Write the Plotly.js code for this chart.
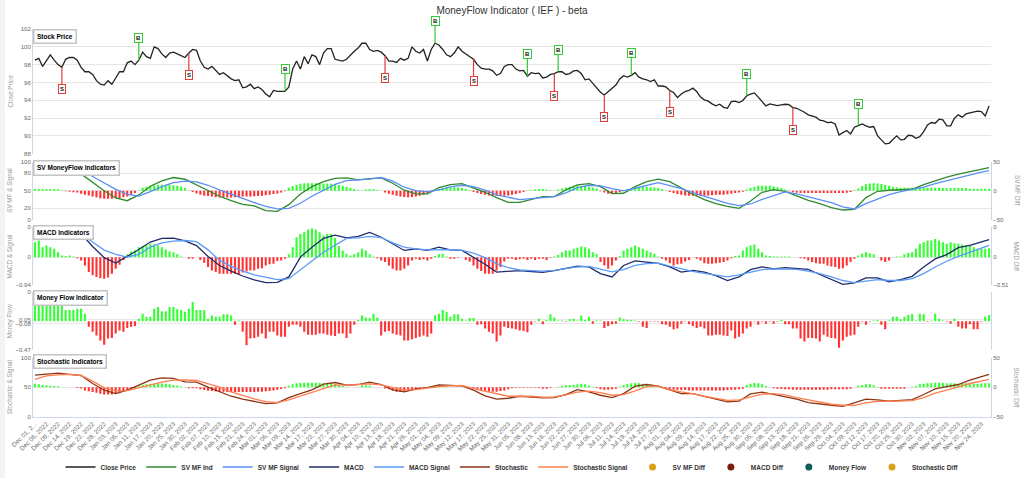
<!DOCTYPE html>
<html><head><meta charset="utf-8">
<script src="https://cdn.plot.ly/plotly-3.0.1.min.js"></script>
<style>
html,body{margin:0;padding:0;background:#f3f3f3;}
#chart{position:absolute;left:5px;top:0;width:1019px;height:478px;background:#fff;}
</style></head><body><div id="chart"></div>
<script>
// ---- categories / tick labels (every 3rd trading day) ----
const tickLabels = ["Dec 01, 2...","Dec 06, 2022","Dec 09, 2022","Dec 14, 2022","Dec 19, 2022","Dec 22, 2022","Dec 28, 2022","Jan 03, 2023","Jan 06, 2023","Jan 11, 2023","Jan 17, 2023","Jan 20, 2023","Jan 25, 2023","Jan 30, 2023","Feb 02, 2023","Feb 07, 2023","Feb 10, 2023","Feb 15, 2023","Feb 21, 2023","Feb 24, 2023","Mar 01, 2023","Mar 06, 2023","Mar 09, 2023","Mar 14, 2023","Mar 17, 2023","Mar 22, 2023","Mar 27, 2023","Mar 30, 2023","Apr 04, 2023","Apr 10, 2023","Apr 13, 2023","Apr 18, 2023","Apr 21, 2023","Apr 26, 2023","May 01, 2023","May 04, 2023","May 09, 2023","May 12, 2023","May 17, 2023","May 22, 2023","May 25, 2023","May 31, 2023","Jun 05, 2023","Jun 08, 2023","Jun 13, 2023","Jun 16, 2023","Jun 22, 2023","Jun 27, 2023","Jun 30, 2023","Jul 06, 2023","Jul 11, 2023","Jul 14, 2023","Jul 19, 2023","Jul 24, 2023","Jul 27, 2023","Aug 01, 2023","Aug 04, 2023","Aug 09, 2023","Aug 14, 2023","Aug 17, 2023","Aug 22, 2023","Aug 25, 2023","Aug 30, 2023","Sep 05, 2023","Sep 08, 2023","Sep 13, 2023","Sep 18, 2023","Sep 21, 2023","Sep 26, 2023","Sep 29, 2023","Oct 04, 2023","Oct 09, 2023","Oct 12, 2023","Oct 17, 2023","Oct 20, 2023","Oct 25, 2023","Oct 30, 2023","Nov 02, 2023","Nov 07, 2023","Nov 10, 2023","Nov 15, 2023","Nov 20, 2023","Nov 24, 2023"];

// ---- daily close price ----
const closePrice = [
98.5,98.7,97.8,98.5,99.1,98.5,98.0,97.7,98.6,98.8,
98.8,98.5,97.7,97.2,97.2,96.9,96.2,95.8,95.7,96.2,
95.8,96.5,97.2,97.2,98.2,98.4,98.0,98.5,99.4,98.9,
98.7,100.0,99.8,99.2,98.8,99.3,99.4,99.2,99.0,98.8,
99.3,99.7,99.6,98.4,97.7,97.5,97.8,97.3,96.9,97.1,
96.7,96.4,96.2,96.3,95.4,95.5,95.8,95.3,95.5,95.2,
94.7,94.4,95.1,95.0,95.0,95.0,95.5,97.5,98.4,97.5,
98.9,98.1,99.1,98.9,98.0,99.3,99.8,99.8,98.6,98.5,
98.4,98.6,99.1,99.5,99.86,100.4,100.4,99.7,99.5,99.6,
99.4,99.0,98.4,98.4,98.25,98.7,98.5,98.7,100.0,99.5,
99.3,99.7,98.4,99.7,100.4,100.2,99.7,99.1,98.9,99.3,
100.0,99.5,99.2,98.9,98.6,98.0,97.6,97.5,97.5,97.3,
96.8,97.0,97.8,98.0,98.0,97.5,97.3,97.35,96.7,97.1,
97.0,97.05,96.5,96.6,96.9,97.0,97.2,97.2,96.9,97.0,
97.3,97.35,97.0,96.3,96.4,95.9,95.4,94.9,94.6,95.0,
95.4,95.7,96.4,96.75,96.6,96.8,97.1,96.6,96.4,96.3,
96.1,96.3,95.6,95.6,95.5,95.1,94.87,94.3,94.7,94.98,
95.1,95.36,94.98,94.35,94.05,93.9,93.6,93.37,93.55,93.2,
93.1,93.85,93.9,93.75,93.97,94.5,94.7,94.83,94.35,93.85,
93.37,93.6,93.48,93.4,93.48,93.55,93.5,93.18,93.1,92.9,
92.65,92.36,92.24,92.1,91.76,91.68,91.5,91.53,91.34,90.1,
90.37,90.6,90.22,90.97,91.16,91.34,91.12,90.97,91.05,90.03,
89.55,89.1,89.17,89.62,90.0,89.55,89.62,90.07,90.03,89.73,
89.92,90.48,91.23,91.5,91.42,91.87,91.8,91.12,91.12,91.98,
92.36,92.1,92.47,92.58,92.65,92.77,92.73,92.24,93.37];

// ---- buy / sell flag days (index into closePrice) ----
const buyDays  = [27, 65, 104, 128, 136, 155, 185, 214];
const sellDays = [7, 40, 91, 114, 135, 148, 165, 197];

// ---- smooth indicator lines, sampled on the labelled days + last day ----
const svMfInd = [88.7,88.7,88.7,87.5,78.9,63.7,50,37.7,33,42.9,
57.7,66.9,72.6,69.7,60,50.3,40.6,33,26.9,24,
16,14.9,26.3,44.6,57,65.7,71,72,68.6,70.9,
72,62.9,50.9,44.6,44.6,55.4,60.6,62.3,55.4,47.4,
38.3,30.3,30.3,35.4,40,40,51.4,60,62.3,57,
45.1,45.7,57,65.7,70,65.7,54.3,44,34.9,28,
23.4,20,32.6,47.4,52,49.1,41.1,33.7,28,21.1,
17.1,18.3,38.3,49.1,50.9,51.4,52.6,60.6,67.4,73.1,
78.3,82.9,86.9,89.7];
const svMfSignal = [84.6,87.7,90.3,89.7,85,74.3,62.9,52.3,44,41,
48.6,57.1,64,66.3,65.2,59.4,51.4,44,36.6,29.7,
23.4,18.9,20,28.6,40.6,50.9,61,67.4,68.6,70,
72.6,66.3,56,50.3,48,51.4,56.6,59.4,57,50.9,
42.9,38.9,34.9,36.6,38.3,40,46.3,55.4,59.4,58.3,
53.7,49.7,54.3,58.9,64,58.9,53.7,46.9,40.6,33.7,
28.6,24.6,27.4,35.4,41.7,48,44.6,39.4,34.3,29.7,
22.3,18.9,28,36,43.4,48.6,52,56,62.3,67.4,
72.6,77.1,81.7,84.6];
const macdLine = [.69,.87,.86,.83,.78,.35,-.02,-.2,.02,.25,
.5,.62,.63,.54,.38,.02,-.28,-.47,-.63,-.76,
-.85,-.84,-.66,0,.33,.62,.73,.64,.69,.82,
.66,.45,.22,.27,.22,.33,.24,.22,0,-.24,
-.5,-.47,-.45,-.48,-.51,-.45,-.37,-.3,-.33,-.55,
-.66,-.28,-.13,-.16,-.21,-.33,-.5,-.44,-.5,-.62,
-.78,-.66,-.42,-.33,-.39,-.35,-.38,-.41,-.58,-.75,
-.91,-.86,-.69,-.69,-.82,-.75,-.64,-.33,-.06,.08,
.31,.39,.5,.58];
const macdSignal = [.64,.72,.78,.8,.78,.5,.23,.09,0,.09,
.33,.47,.53,.55,.51,.24,-.11,-.31,-.47,-.59,
-.66,-.75,-.72,-.44,-.13,.16,.39,.62,.64,.69,
.65,.47,.33,.27,.24,.25,.25,.22,.13,-.02,
-.22,-.35,-.43,-.45,-.47,-.44,-.39,-.33,-.31,-.39,
-.49,-.42,-.28,-.22,-.2,-.3,-.39,-.48,-.54,-.59,
-.66,-.59,-.5,-.42,-.39,-.39,-.41,-.47,-.55,-.66,
-.78,-.85,-.8,-.75,-.78,-.78,-.72,-.55,-.33,-.14,
.02,.16,.28,.39];
const stochLine = [70.6,72.3,74,71.8,70,56.5,45.2,39.5,45.2,53.7,
62.1,66.1,65,59.3,58.8,50.3,42.4,35,30,26,
22.6,23.7,32.8,39.5,45.8,55.4,58.2,53.7,54.8,58.8,
54.8,45.8,42.4,47.5,49.7,54.2,53.7,52.5,45.2,35.6,
30,31.6,35,33.9,32.2,32.8,37.9,46.3,42.4,36.7,
32.8,39.5,52,54.8,52,45.8,39.5,39.5,35,30,
25.4,26.6,39,41.8,37.9,33.9,30,24.3,21.5,19.8,
18.1,24.3,30,28.8,26.6,28.2,29.4,37.9,47.5,51.4,
54.8,62.1,67.8,71.8];
const stochSignal = [63.3,69.5,71.2,71.8,70,60.5,49.2,44,44.6,49.7,
53.7,58.8,62.1,62.7,61.6,56.5,50.3,42.4,36.2,30.5,
26,24.3,28.8,35,41.8,48.6,54.2,53.7,54.8,55.9,
54.2,49.2,45.2,46.3,49.2,51.4,52.5,53.1,48,43.5,
38.4,35,35,35,33.3,33.9,37.3,41.8,43.5,41.2,
36.7,37.9,44,51.4,52.5,45.8,42.4,39.5,35,31.1,
28.2,28.8,33.3,38.4,39.5,37.3,32.8,28.8,25.4,21.5,
19.8,19.8,23.7,26.6,26.6,26.6,27.7,32.8,40.1,45.2,
50.8,56.5,60.5,63.3];

// ---- daily histogram series ----
const svMfDiff = [
2.8,2.8,2.8,2.8,2.8,2.8,2.5,0.3,-1,-1.5,
-2.5,-3,-5,-6.8,-8,-9.7,-11,-13,-13.7,-13.7,
-13.7,-13,-12.5,-11,-9.7,-7,-4,0.5,5,7,
8.5,9.5,10.2,10.2,10.2,10,9.5,8.5,7.4,4.5,
0.5,-2,-4.5,-7,-8.5,-9,-10,-11,-11.4,-11.4,
-11.4,-11.4,-11,-10.5,-10,-9.7,-9.7,-9.5,-9,-8.5,
-7.5,-6.8,-5.5,-4.5,-3,-1,5,8,10,12,
13,13,13,13,13,12.5,12.5,12,11,10,
8.5,7,5,3,1.5,0.5,2,2.5,2.5,1.5,
0,-3,-5,-7,-8.5,-9.7,-10.5,-11,-10.5,-9.7,
-8.5,-6.8,-4,-1,0.3,3,4.5,5.5,6,6,
5.5,4.5,3,1,-2,-4,-5.5,-6.8,-8,-8.5,
-9,-9,-8.5,-8,-7,-5.5,-4,-2,0.3,1,
2.5,3,3,2,1,0.5,2,4,5.5,7,
8,8.5,8.5,8,7,5.5,4,-1,-3,-5,
-5.5,-4,-2,0.3,3,4.5,5.5,6,6.5,6.5,
6,5.5,4.5,3,0.5,-2,-4,-5.5,-7,-8,
-8.5,-8.5,-8.5,-8.5,-8.5,-8,-7.5,-7,-6.8,-6.8,
-6,-5,-4,-3,-1.5,2,5,7,8.5,8.5,
8.5,8.5,7.5,6,4.5,2,-1,-2.5,-3.5,-4,
-4,-4,-4,-4,-4,-4,-4,-4,-4,-4,
-4,-3.5,-2,1,4,8,11,12.5,13,12.5,
11.5,10,8.5,7,6,5,5,5,5,5,
5.5,5.5,5,5,5,5,4.5,4.5,4.5,4.5,
4.5,4.5,4.5,3.5,3.5,3.5,3.5,3.5,3.5];
const macdDiff = [
.27,.30,.18,.21,.18,.15,.09,.03,.02,.03,
.01,-.02,-.06,-.15,-.27,-.33,-.36,-.38,-.39,-.37,
-.3,-.21,-.14,-.05,.05,.1,.12,.18,.2,.21,
.24,.23,.21,.18,.14,.1,.09,.05,.01,0,
-.03,-.03,0,-.05,-.1,-.18,-.24,-.27,-.3,-.3,
-.3,-.3,-.3,-.32,-.28,-.26,-.24,-.24,-.21,-.2,
-.15,-.13,-.12,-.07,-.06,-.03,.05,.18,.36,.42,
.45,.5,.52,.5,.45,.39,.42,.42,.35,.2,
.12,.06,.03,.05,.09,.15,.12,.05,.01,-.02,
-.06,-.09,-.15,-.21,-.24,-.24,-.21,-.15,-.06,-.03,
-.05,-.04,-.06,-.03,.02,.05,.06,.01,-.03,-.03,
-.01,0,-.05,-.08,-.15,-.21,-.25,-.3,-.3,-.3,
-.24,-.18,-.08,-.03,-.03,-.05,-.04,-.03,-.05,-.03,
-.05,-.03,-.03,-.05,-.01,.01,.04,.09,.12,.12,
.15,.17,.19,.18,.15,.09,.05,-.09,-.15,-.21,
-.15,-.06,.02,.12,.15,.18,.21,.18,.15,.12,
.09,.06,.01,-.03,-.06,-.11,-.15,-.13,-.12,-.08,
-.05,0,-.03,-.06,-.11,-.12,-.12,-.11,-.1,-.09,
-.06,-.02,.02,.03,.12,.18,.21,.23,.15,.09,
.03,.02,.01,.01,.01,.01,.01,0,0,-.02,
-.03,-.06,-.09,-.11,-.12,-.12,-.15,-.17,-.18,-.21,
-.2,-.15,-.09,-.03,.03,.06,.09,.07,.05,0,
-.06,-.09,-.06,0,.01,.01,.05,.08,.09,.15,
.24,.27,.3,.3,.33,.3,.27,.24,.27,.25,
.24,.23,.21,.2,.18,.15,.15,.15,.16];
const moneyFlow = [
.39,.37,.34,.34,.32,.28,.28,.27,.18,.18,
.18,.2,.2,.12,-.09,-.17,-.23,-.31,-.38,-.28,
-.27,-.2,-.15,-.17,-.11,-.09,-.08,.04,.12,.07,
.07,.2,.23,.16,.16,.23,.23,.19,.18,.15,
.2,.31,.18,.18,.18,.04,.09,.07,.07,.11,
.11,.09,-.06,.01,-.17,-.39,-.28,-.27,-.25,-.2,
-.28,-.17,-.17,-.23,-.25,-.25,-.09,-.06,-.06,-.09,
-.17,-.22,-.22,-.22,-.2,-.2,-.22,-.23,-.24,-.2,
-.2,-.27,-.2,-.06,.02,.09,.06,.05,.12,.06,
-.23,-.17,-.16,-.2,-.22,-.23,-.31,-.31,-.29,-.27,
-.25,-.23,-.25,-.2,.09,.12,.18,.15,.07,.11,
.11,.04,.01,.05,.05,-.06,-.05,-.12,-.17,-.2,
-.33,-.23,-.09,-.11,-.12,-.13,-.15,-.16,-.18,-.06,
-.01,.04,-.05,.02,.11,.06,.01,.01,-.01,.03,
.04,.01,.09,.02,.07,-.04,.01,.01,-.11,-.08,
-.05,-.04,.06,.03,.02,.02,.01,-.01,-.09,-.11,
-.01,-.01,-.01,-.05,-.06,-.09,-.13,-.12,-.04,-.01,
-.05,-.08,-.11,-.09,-.12,-.23,-.23,-.22,-.22,-.23,
-.24,-.15,-.28,-.25,-.2,-.12,-.09,-.01,-.06,-.01,
-.04,-.01,-.04,-.01,.02,-.05,-.05,-.12,-.12,-.28,
-.33,-.27,-.27,-.28,-.33,-.22,-.25,-.27,-.28,-.43,
-.31,-.25,-.23,-.22,-.09,-.01,-.06,-.01,.01,.02,
-.06,-.13,.01,.07,.07,.03,.07,.1,.11,.01,
.12,.11,-.01,.01,.12,.04,.01,-.01,-.04,.04,
-.09,-.12,-.12,-.05,-.13,-.13,-.01,.07,.1];
const stochDiff = [
6.2,5.1,4,3.4,2.8,2.3,1.7,0.3,0.3,0.3,
0.3,-1,-2,-5.1,-6.5,-7.9,-9,-10.7,-11.9,-11.9,
-11.9,-11,-9,-6.8,-4,-2.5,-1,2,4,5.1,
6.2,6.5,6.8,6.5,6.2,5.1,4,3,1.5,0.5,
-1.7,-1.7,-1.7,-3.4,-4.5,-5.6,-6.2,-7,-7.3,-7.5,
-7.9,-7.9,-7.9,-7.9,-7.9,-7.9,-7.9,-7.9,-7.5,-7.3,
-6.5,-6.2,-5.1,-4,-2.8,-1.5,2.8,5.1,6.8,7.5,
7.9,7.9,7.9,7.6,7.3,6.8,7.5,7.5,5.8,4,
2.3,0.5,0.3,0.3,0.3,3.5,3.5,2.5,0.3,0.2,
0.2,-2,-3.4,-5.1,-7.3,-7.3,-7.3,-6.5,-5.1,-3,
-1.5,-0.5,0.5,1.5,3.4,3.4,2.5,1,0.3,0.3,
0.3,0.3,0.3,0.2,-1.5,-3.4,-5.1,-6.2,-7.3,-7.3,
-7.3,-6.2,-5.1,-3.4,-1.5,-0.5,-0.5,-0.5,-0.5,-0.5,
-0.5,-1,-2.3,-2.3,-1,0.2,1,2.3,3.4,4,
4.5,5.1,6.2,5.1,3,1,-1,-3.4,-4,-4,
-3.4,-2.3,1,4,5.6,6.8,7.3,6.8,6.2,5.1,
4,3,1.5,-0.5,-1.5,-3.4,-4,-4,-4.5,-4.5,
-5.1,-5.1,-5.1,-5.1,-5.1,-5.1,-5.1,-5.1,-5.1,-5.1,
-4.5,-4,-4,-3.4,-2.3,4,6.2,7.3,6.8,5.1,
2.3,0.2,-1.7,-2.3,-2.8,-3.4,-3.4,-4,-4,-4,
-4,-4,-4,-4,-4,-4,-4,-3.4,-3.4,-3.4,
-3.4,-3,-2.3,0.2,2.8,4,5.1,5.1,3.4,0.5,
-2.3,-2.3,-2.3,-2.3,-2.3,-2.3,-2.3,0.2,1,2.3,
5.1,6.2,6.8,7.3,7.9,7.9,7.3,6.8,6.8,6.8,
6.2,6.5,6.8,6.5,6.2,6.2,6.5,6.8,6.8];

// ---- positions on the category axis ----
const dayX = arr => arr.map((_, i) => i);
const tickX = tickLabels.map((_, i) => 3 * i);
const lineX = tickX.concat([closePrice.length - 1]);
const signColor = arr => arr.map(v => v >= 0 ? '#33ff33' : '#ff3333');

const FONT = '"Liberation Sans", Arial, sans-serif';
const GRID = '#e6e6e6', AXL = '#ccd6eb', TXT = '#666';
const tf = {family: FONT, size: 6, color: TXT};

const dom = {price:[0.6786,1], sv:[0.5077,0.6585], macd:[0.3394,0.4897], mf:[0.1719,0.3214], st:[0,0.1528]};

const lineTrace = (name, x, y, ya, color) => ({type:'scatter', mode:'lines', name, x, y, xaxis:'x', yaxis:ya,
  line:{color, width:1.3}, hoverinfo:'skip'});
const barTrace = (name, y, ya, grp) => ({type:'bar', name, x: dayX(y), y, xaxis:'x', yaxis:ya, width:0.55,
  marker:{color: signColor(y), line:{width:0}}, showlegend:false, legendgroup:grp, hoverinfo:'skip'});
const legendDot = (name, color, grp) => ({type:'scatter', mode:'markers', name, x:[null], y:[null], xaxis:'x', yaxis:'y',
  marker:{color, size:7, symbol:'circle'}, legendgroup:grp, hoverinfo:'skip'});

const data = [
  barTrace('SV MF Diff', svMfDiff, 'y2', 'svd'),
  barTrace('MACD Diff', macdDiff, 'y4', 'md'),
  barTrace('Money Flow', moneyFlow, 'y6', 'mf'),
  barTrace('Stochastic Diff', stochDiff, 'y7', 'sd'),
  lineTrace('Close Price', dayX(closePrice), closePrice, 'y', '#222222'),
  lineTrace('SV MF Ind', lineX, svMfInd, 'y3', '#2f8a2f'),
  lineTrace('SV MF Signal', lineX, svMfSignal, 'y3', '#5b8ff5'),
  lineTrace('MACD', lineX, macdLine, 'y5', '#1f2c6c'),
  lineTrace('MACD Signal', lineX, macdSignal, 'y5', '#5b9bf8'),
  lineTrace('Stochastic', lineX, stochLine, 'y8', '#8e3516'),
  lineTrace('Stochastic Signal', lineX, stochSignal, 'y8', '#ff7f50'),
  legendDot('SV MF Diff', '#d9a21b', 'svd'),
  legendDot('MACD Diff', '#7d1f0c', 'md'),
  legendDot('Money Flow', '#0d5f57', 'mf'),
  legendDot('Stochastic Diff', '#d9a21b', 'sd')
];

const leftAx = (domain, range, tickvals, ticktext, extra) => Object.assign({domain, range, tickvals, ticktext,
  showgrid:true, gridcolor:GRID, gridwidth:1, zeroline:false, showline:true, linecolor:AXL, linewidth:1,
  ticks:'', tickfont:tf, fixedrange:true, anchor:'x', side:'left', automargin:false}, extra || {});
const rightAx = (domain, range, tickvals, ticktext) => ({domain, range, tickvals, ticktext, side:'right', anchor:'x',
  showgrid:false, zeroline:false, showline:true, linecolor:AXL, linewidth:1, ticks:'', tickfont:tf, fixedrange:true, automargin:false});

const flag = (idx, label, color, off) => ({x: idx, y: closePrice[idx], xref:'x', yref:'y', text:'<b>'+label+'</b>',
  showarrow:true, arrowhead:0, arrowwidth:1.2, arrowcolor:color, ax:0, ay:off, standoff:0,
  bordercolor:color, borderwidth:1, borderpad:1, bgcolor:'#ffffff', font:{family:FONT, size:6, color:'#111'}});
const panelLabel = (text, top) => ({xref:'paper', yref:'paper', x:0, y:top, xanchor:'left', yanchor:'top',
  text:'<b>'+text+'</b>', showarrow:false, bgcolor:'#ffffff', bordercolor:'#c4c4c4', borderwidth:1.5, borderpad:2.5,
  font:{family:FONT, size:6.5, color:'#000'}});
const axTitle = (text, x, y, angle) => ({xref:'paper', yref:'paper', x, y, xanchor:'center', yanchor:'middle',
  text, textangle:angle, showarrow:false, font:{family:FONT, size:6.3, color:'#9a9a9a'}});

const annotations = []
  .concat(buyDays.map(d => flag(d, 'B', '#33cc33', -22)))
  .concat(sellDays.map(d => flag(d, 'S', '#e23c3c', 22)))
  .concat([
    panelLabel('Stock Price', dom.price[1]),
    panelLabel('SV MoneyFlow Indicators', dom.sv[1] + 0.003),
    panelLabel('MACD Indicators', dom.macd[1] + 0.006),
    panelLabel('Money Flow Indicator', dom.mf[1] + 0.006),
    panelLabel('Stochastic Indicators', dom.st[1] + 0.01),
    axTitle('Close Price', -0.024, 0.839, -90),
    axTitle('SV MF &amp; Signal', -0.024, 0.583, -90),
    axTitle('MACD &amp; Signal', -0.024, 0.414, -90),
    axTitle('Money Flow', -0.024, 0.247, -90),
    axTitle('Stochastic &amp; Signal', -0.024, 0.0765, -90),
    axTitle('SV MF Diff', 1.027, 0.583, 90),
    axTitle('MACD Diff', 1.027, 0.414, 90),
    axTitle('Stochastic Diff', 1.027, 0.0765, 90)
  ]);

const layout = {
  width:1019, height:478,
  margin:{l:28, r:33, t:29, b:61, pad:0, autoexpand:false},
  paper_bgcolor:'#ffffff', plot_bgcolor:'#ffffff',
  font:{family:FONT, color:'#333'},
  title:{text:'MoneyFlow Indicator ( IEF ) - beta', font:{family:FONT, size:10, color:'#333'}, xref:'paper', x:0.5, xanchor:'center', y:0.977, yanchor:'middle', automargin:false},
  showlegend:true,
  legend:{orientation:'h', xref:'paper', x:0.5, xanchor:'center', yref:'container', y:0.023, yanchor:'middle', itemwidth:30,
    font:{family:FONT, size:6.5, color:'#333', weight:'bold'}, bgcolor:'rgba(0,0,0,0)', traceorder:'normal'},
  barmode:'overlay',
  hovermode:false,
  xaxis:{anchor:'y7', domain:[0,1], range:[-0.5, closePrice.length - 0.5], tickvals:tickX, ticktext:tickLabels,
    tickangle:-45, tickfont:{family:FONT, size:6.3, color:TXT}, showgrid:false, zeroline:false, showline:true,
    linecolor:AXL, ticks:'', fixedrange:true, automargin:false},
  yaxis: leftAx(dom.price, [88,102], [88,90,92,94,96,98,100,102], ['88','90','92','94','96','98','100','102']),
  yaxis2: rightAx(dom.sv, [-50,50], [-50,0,50], ['−50','0','50']),
  yaxis3: leftAx(dom.sv, [0,100], [0,20,50,80,100], ['0','20','50','80','100'], {overlaying:'y2'}),
  yaxis4: rightAx(dom.macd, [-0.51,0.545], [-0.51,0,0.545], ['−0.51','0','0']),
  yaxis5: leftAx(dom.macd, [-0.94,1.0], [-0.94,0,1.0], ['−0.94','0','0'], {overlaying:'y4'}),
  yaxis6: leftAx(dom.mf, [-0.47,0.465], [-0.47,-0.045,0.025,0.465], ['−0.47','−0.08','0.05','0'], {mirror:true}),
  yaxis7: rightAx(dom.st, [-50,50], [-50,0,50], ['−50','0','50']),
  yaxis8: leftAx(dom.st, [0,100], [0,50,100], ['0','50','100'], {overlaying:'y7'}),
  annotations
};

Plotly.newPlot('chart', data, layout, {displayModeBar:false, staticPlot:true});
</script></body></html>
